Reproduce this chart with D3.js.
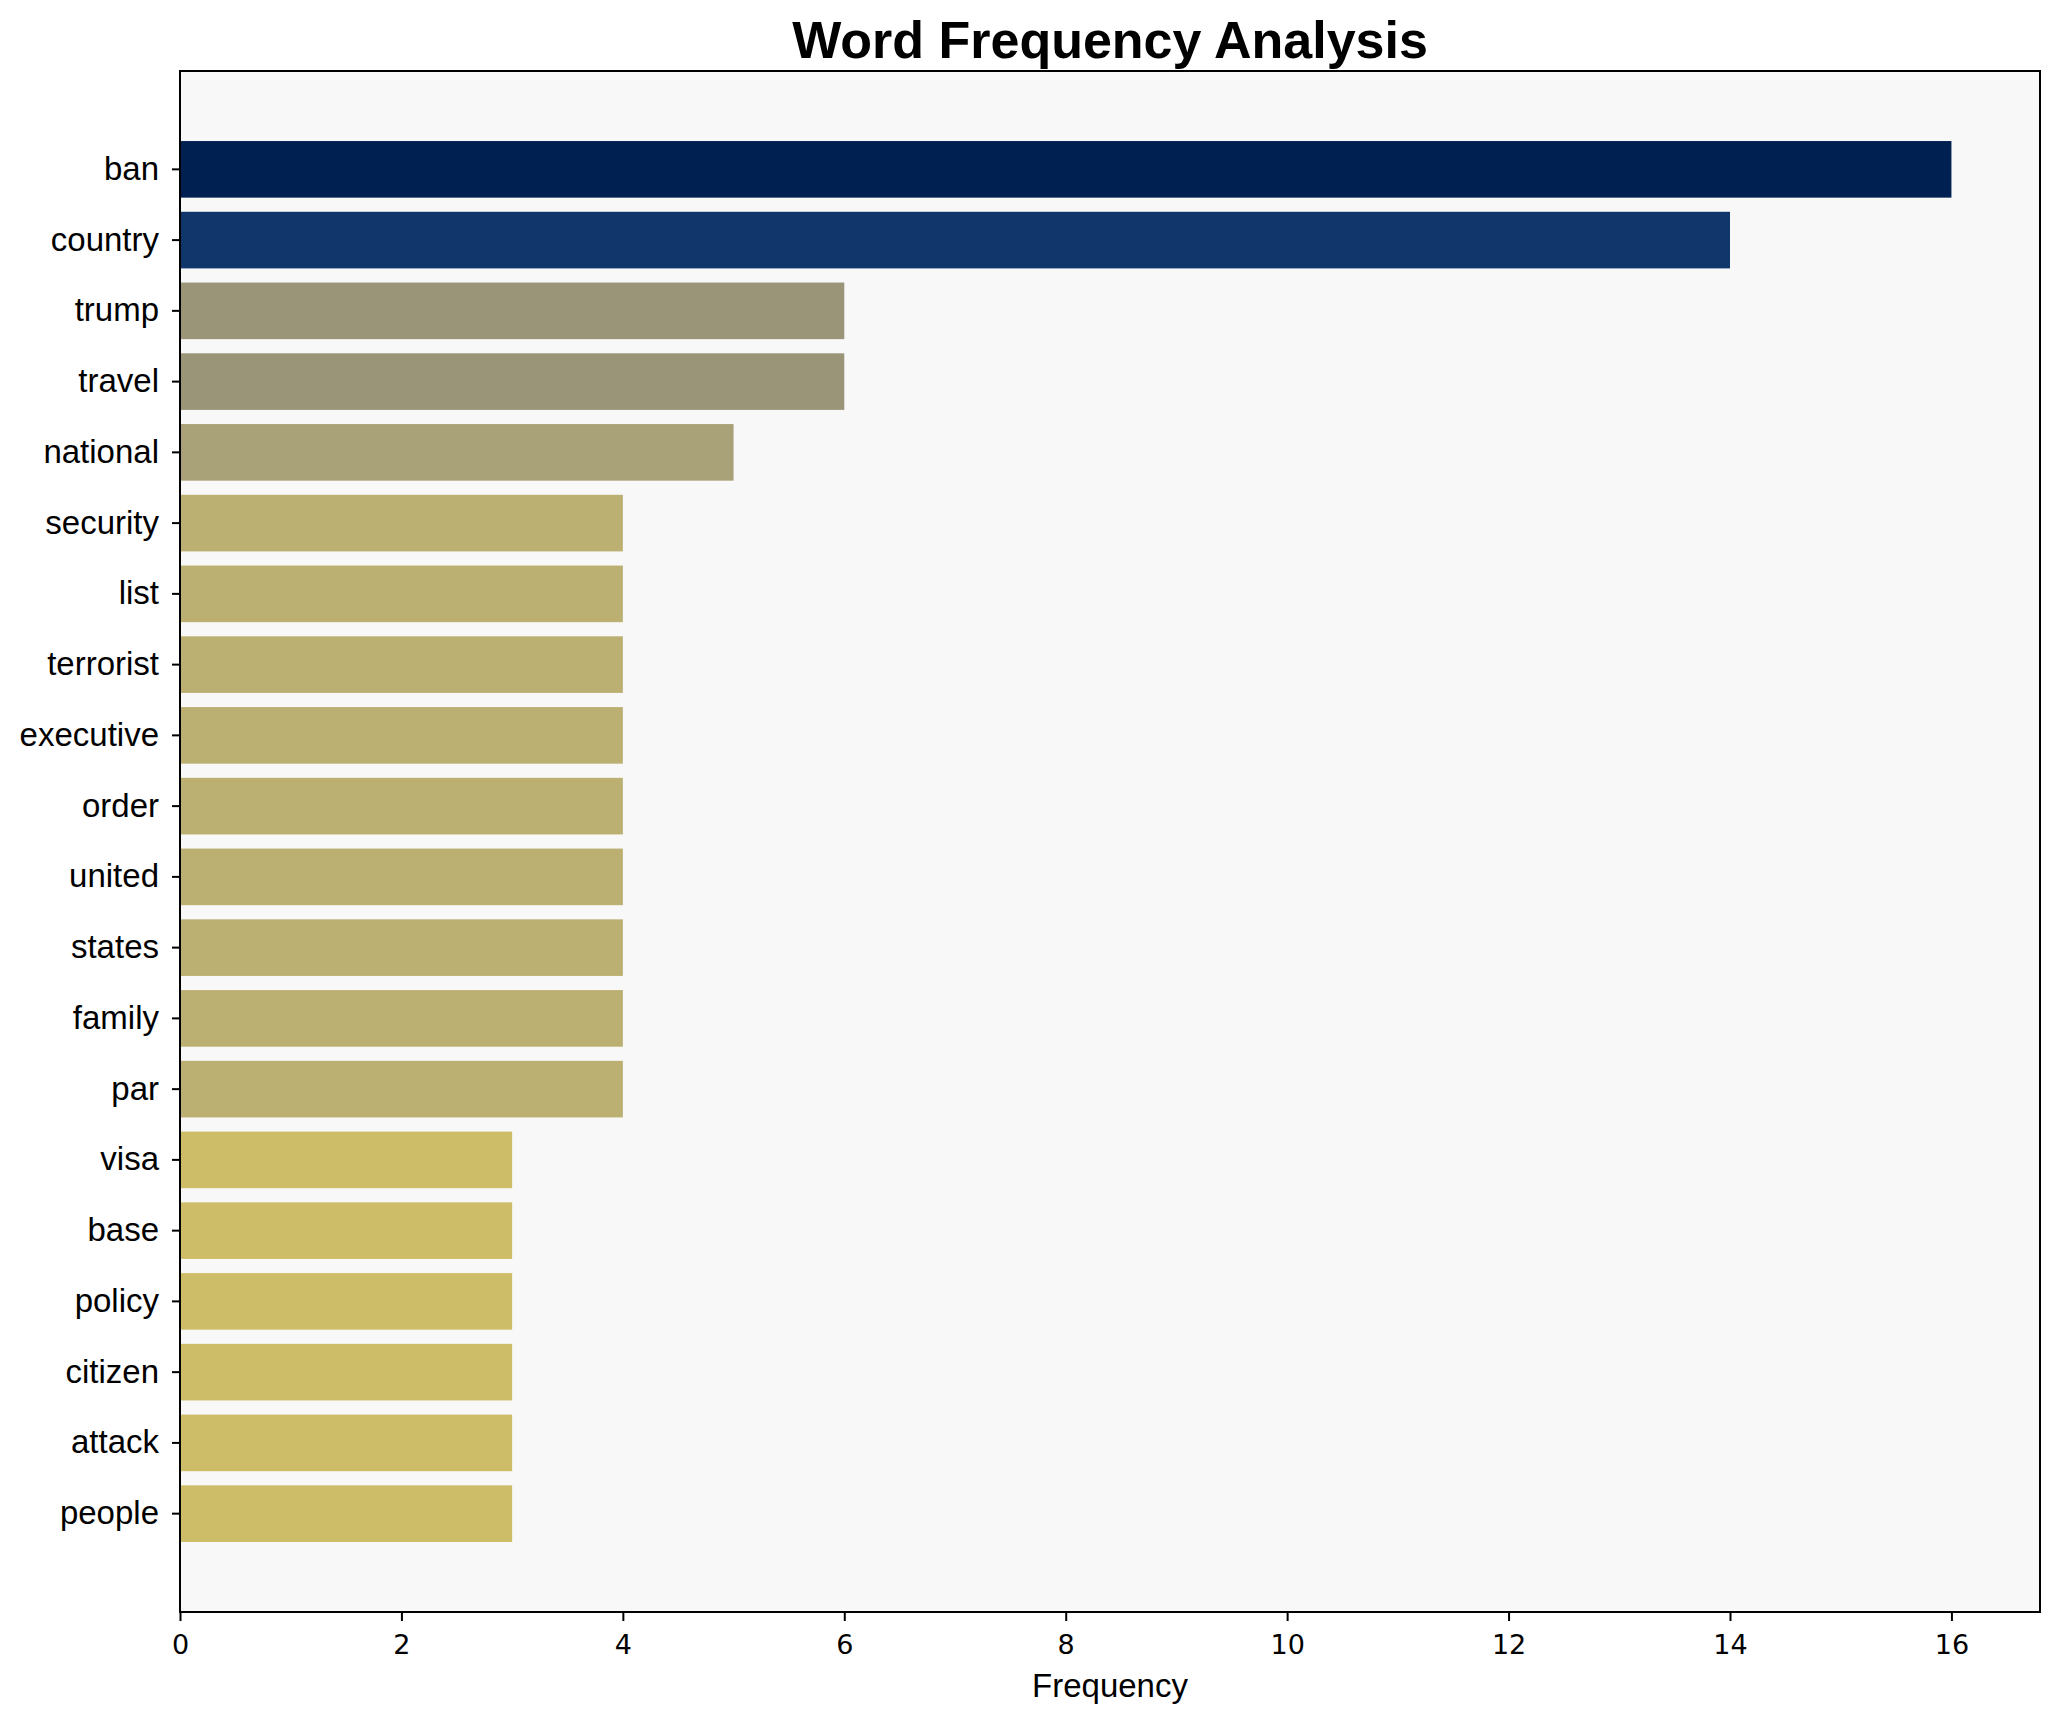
<!DOCTYPE html>
<html>
<head>
<meta charset="utf-8">
<script src="https://cdn.jsdelivr.net/npm/d3@7"></script>
<style>
  body { margin: 0; background: #fff; }
  svg { display: block; }
</style>
</head>
<body>
<div id="chart"></div>
<script>
// word counts, top to bottom
var words = ['ban', 'country', 'trump', 'travel', 'national', 'security', 'list', 'terrorist',
    'executive', 'order', 'united', 'states', 'family', 'par', 'visa', 'base', 'policy',
    'citizen', 'attack', 'people'];
var counts = [16, 14, 6, 6, 5, 4, 4, 4, 4, 4, 4, 4, 4, 4, 3, 3, 3, 3, 3, 3];
var xTicks = [0, 2, 4, 6, 8, 10, 12, 14, 16];

var W = 2060, H = 1722;
var margin = {top: 71, right: 20, bottom: 110, left: 180};
var width = W - margin.left - margin.right,
    height = H - margin.top - margin.bottom;

var svg = d3.select('#chart').append('svg')
    .attr('width', W)
    .attr('height', H);

var maxCount = d3.max(counts);
var x = d3.scaleLinear().domain([0, maxCount * 1.05]).range([0, width]);
var y = d3.scaleBand().domain(words).range([0, height])
    .paddingInner(0.2).paddingOuter(0.99);
// darker for frequent words
var color = function(v) { return d3.interpolateCividis(1 - v / maxCount); };

var g = svg.append('g')
    .attr('transform', 'translate(' + margin.left + ',' + margin.top + ')');

g.append('rect')
    .attr('width', width)
    .attr('height', height)
    .attr('fill', '#f8f8f8');

g.selectAll('.bar')
    .data(words)
    .enter().append('rect')
    .attr('class', 'bar')
    .attr('x', x(0))
    .attr('y', function(d) { return y(d); })
    .attr('width', function(d, i) { return x(counts[i]) - x(0); })
    .attr('height', y.bandwidth())
    .attr('fill', function(d, i) { return color(counts[i]); });

var xAxis = g.append('g')
    .attr('transform', 'translate(0,' + height + ')')
    .call(d3.axisBottom(x).tickValues(xTicks).tickFormat(d3.format('d'))
        .tickSize(9).tickPadding(14).tickSizeOuter(0));
xAxis.selectAll('text')
    .attr('font-family', 'DejaVu Sans')
    .attr('font-size', 27)
    .attr('fill', '#000');

var yAxis = g.append('g')
    .call(d3.axisLeft(y).tickSize(8).tickPadding(13).tickSizeOuter(0));
yAxis.selectAll('text')
    .attr('font-family', 'Liberation Sans, Arial, sans-serif')
    .attr('font-size', 33)
    .attr('fill', '#000');

g.selectAll('.domain').remove();
g.selectAll('.tick line').attr('stroke', '#000').attr('stroke-width', 2);

// frame
g.append('rect')
    .attr('width', width)
    .attr('height', height)
    .attr('fill', 'none')
    .attr('stroke', '#000')
    .attr('stroke-width', 2);

g.append('text')
    .attr('x', width / 2)
    .attr('y', height + 85)
    .attr('text-anchor', 'middle')
    .attr('font-family', 'Liberation Sans, Arial, sans-serif')
    .attr('font-size', 33)
    .text('Frequency');

svg.append('text')
    .attr('x', margin.left + width / 2)
    .attr('y', 58)
    .attr('text-anchor', 'middle')
    .attr('font-family', 'Liberation Sans, Arial, sans-serif')
    .attr('font-weight', 'bold')
    .attr('font-size', 52)
    .text('Word Frequency Analysis');
</script>
</body>
</html>
